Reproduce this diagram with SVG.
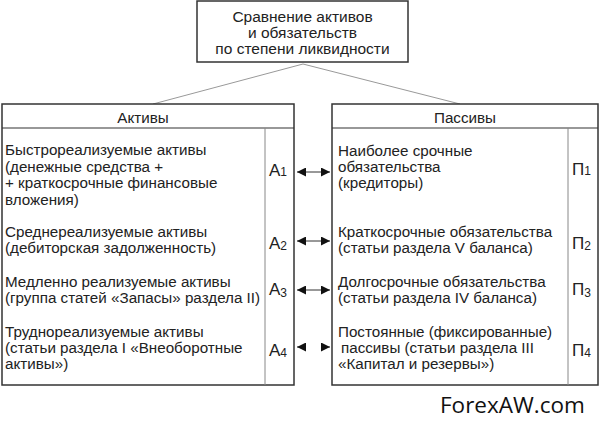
<svg xmlns="http://www.w3.org/2000/svg" width="600" height="425" viewBox="0 0 600 425">
<defs>
<marker id="ah" viewBox="0 0 10 10" refX="10" refY="5" markerWidth="9" markerHeight="9" markerUnits="userSpaceOnUse" orient="auto-start-reverse">
<path d="M0,0 L10,5 L0,10 z" fill="#111"/>
</marker>
<style>
.box{fill:#fff;stroke:#333;stroke-width:1.5}
.div{stroke:#888;stroke-width:1;fill:none}
.hdr{stroke:#333;stroke-width:1.2;fill:none}
.t{font-family:"Liberation Sans",Arial,sans-serif;font-size:15.2px;fill:#222}
.tt{font-size:15.5px}
.c{text-anchor:middle}
.lbl{font-family:"Liberation Sans",Arial,sans-serif;font-size:17px;fill:#222}
.sub{font-size:12px}
.conn{stroke:#999;stroke-width:1;fill:none}
.arr{stroke:#333;stroke-width:1;fill:none;marker-start:url(#ah);marker-end:url(#ah)}
</style>
</defs>
<rect width="600" height="425" fill="#fff"/>
<g id="connectors">
<line class="conn" x1="303" y1="64" x2="153" y2="104"/>
<line class="conn" x1="303" y1="64" x2="460" y2="104"/>
<line class="arr" x1="297" y1="172" x2="330" y2="172"/>
<line class="arr" x1="297" y1="241" x2="330" y2="241"/>
<line class="arr" x1="297" y1="290" x2="330" y2="290"/>
<path d="M297,347 L305,347 M322,347 L330,347" class="arr" stroke="none"/>
</g>
<g id="top">
<rect class="box" x="197" y="1" width="211" height="61"/>
<text class="t tt c" x="302.5" y="21.5">Сравнение активов</text>
<text class="t tt c" x="302.5" y="37.5">и обязательств</text>
<text class="t tt c" x="302.5" y="54">по степени ликвидности</text>
</g>
<g id="assets">
<rect class="box" x="2" y="104" width="292" height="281"/>
<line class="hdr" x1="2" y1="128" x2="294" y2="128"/>
<line class="div" x1="265" y1="128" x2="265" y2="385"/>
<text class="t c" x="143" y="123">Активы</text>
</g>
<g id="a1">
<text class="t" x="5" y="155">Быстрореализуемые активы</text>
<text class="t" x="5" y="172">(денежные средства +</text>
<text class="t" x="5" y="188">+ краткосрочные финансовые</text>
<text class="t" x="5" y="205">вложения)</text>
<text class="lbl" x="269" y="176">А<tspan class="sub">1</tspan></text>
</g>
<g id="a2">
<text class="t" x="5" y="237">Среднереализуемые активы</text>
<text class="t" x="5" y="253">(дебиторская задолженность)</text>
<text class="lbl" x="269" y="249">А<tspan class="sub" dy="1">2</tspan></text>
</g>
<g id="a3">
<text class="t" x="5" y="287">Медленно реализуемые активы</text>
<text class="t" x="5" y="303">(группа статей «Запасы» раздела II)</text>
<text class="lbl" x="269" y="295">А<tspan class="sub" dy="2">3</tspan></text>
</g>
<g id="a4">
<text class="t" x="5" y="337">Труднореализуемые активы</text>
<text class="t" x="5" y="353">(статьи раздела I «Внеоборотные</text>
<text class="t" x="5" y="369">активы»)</text>
<text class="lbl" x="269" y="356">А<tspan class="sub" dy="1">4</tspan></text>
</g>
<g id="liabilities">
<rect class="box" x="332" y="104" width="266" height="281"/>
<line class="hdr" x1="332" y1="128" x2="598" y2="128"/>
<line class="div" x1="568" y1="128" x2="568" y2="385"/>
<text class="t c" x="465" y="123">Пассивы</text>
</g>
<g id="p1">
<text class="t" x="338" y="156">Наиболее срочные</text>
<text class="t" x="338" y="172">обязательства</text>
<text class="t" x="338" y="188">(кредиторы)</text>
<text class="lbl" x="572" y="175">П<tspan class="sub">1</tspan></text>
</g>
<g id="p2">
<text class="t" x="338" y="237">Краткосрочные обязательства</text>
<text class="t" x="338" y="253">(статьи раздела V баланса)</text>
<text class="lbl" x="572" y="249">П<tspan class="sub" dy="1">2</tspan></text>
</g>
<g id="p3">
<text class="t" x="338" y="287">Долгосрочные обязательства</text>
<text class="t" x="338" y="303">(статьи раздела IV баланса)</text>
<text class="lbl" x="572" y="295">П<tspan class="sub" dy="2">3</tspan></text>
</g>
<g id="p4">
<text class="t" x="338" y="337">Постоянные (фиксированные)</text>
<text class="t" x="341" y="353">пассивы (статьи раздела III</text>
<text class="t" x="338" y="369">«Капитал и резервы»)</text>
<text class="lbl" x="572" y="356">П<tspan class="sub" dy="1">4</tspan></text>
</g>
<text x="440" y="413" style="font-family:'Open Sans',sans-serif;font-size:22.5px;fill:#111">ForexAW.com</text>
</svg>
